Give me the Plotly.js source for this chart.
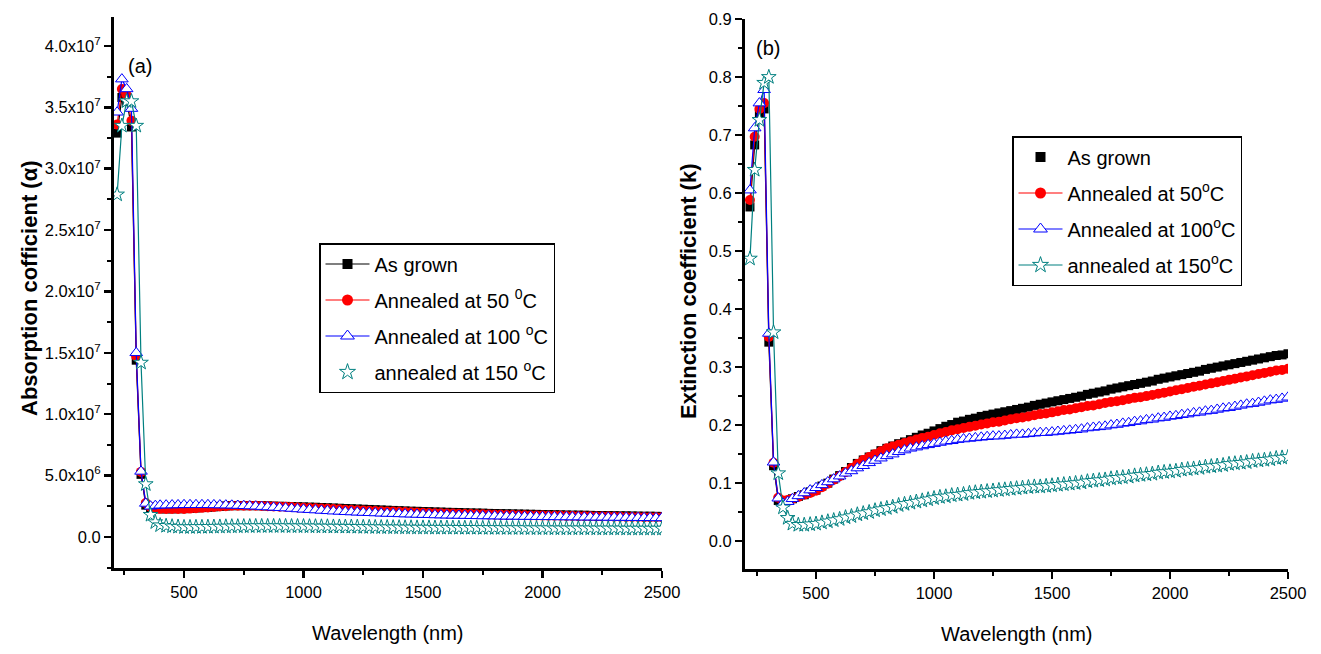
<!DOCTYPE html>
<html>
<head>
<meta charset="utf-8">
<script src="https://cdn.plot.ly/plotly-3.0.1.min.js"></script>
<style>html,body{margin:0;padding:0;background:#fff;}#chart{width:1321px;height:654px;}</style>
</head>
<body>
<div id="chart"></div>
<script>
// Wavelength grid (nm)
const wavelength = [220,240,260,280,300,320,340,360,380,
400,425,450,475,500,525,550,575,600,625,650,675,700,725,750,775,800,825,850,875,900,925,950,975,
1000,1025,1050,1075,1100,1125,1150,1175,1200,1225,1250,1275,1300,1325,1350,1375,1400,1425,1450,1475,
1500,1525,1550,1575,1600,1625,1650,1675,1700,1725,1750,1775,1800,1825,1850,1875,1900,1925,1950,1975,
2000,2025,2050,2075,2100,2125,2150,2175,2200,2225,2250,2275,2300,2325,2350,2375,2400,2425,2450,2475,2500];

// Panel (a): absorption coefficient (alpha)
const alphaAsGrown = [32.9e6,35.8e6,35.5e6,33.4e6,14.4e6,5.1e6,2.59e6,2.37e6,2.31e6,
2.29e6,2.29e6,2.29e6,2.30e6, 2.30e6,2.33e6,2.36e6,2.39e6, 2.42e6,2.45e6,2.49e6,2.52e6, 2.55e6,2.55e6,2.55e6,2.55e6,
2.55e6,2.54e6,2.53e6,2.51e6, 2.50e6,2.49e6,2.48e6,2.46e6, 2.45e6,2.43e6,2.42e6,2.40e6, 2.38e6,2.36e6,2.34e6,2.32e6,
2.30e6,2.28e6,2.26e6,2.24e6, 2.22e6,2.20e6,2.18e6,2.16e6, 2.14e6,2.12e6,2.10e6,2.09e6, 2.07e6,2.06e6,2.04e6,2.03e6,
2.01e6,2.00e6,1.99e6,1.97e6, 1.96e6,1.95e6,1.94e6,1.92e6, 1.91e6,1.90e6,1.89e6,1.88e6, 1.87e6,1.86e6,1.85e6,1.84e6,
1.83e6,1.82e6,1.81e6,1.80e6, 1.79e6,1.78e6,1.78e6,1.77e6, 1.76e6,1.75e6,1.75e6,1.74e6, 1.73e6,1.72e6,1.72e6,1.71e6,
1.70e6,1.69e6,1.69e6,1.68e6, 1.67e6];
const alpha50 = [33.6e6,36.5e6,36.0e6,33.9e6,14.7e6,5.3e6,2.77e6,2.44e6,2.35e6,
2.29e6,2.28e6,2.28e6,2.28e6, 2.28e6,2.31e6,2.34e6,2.37e6, 2.40e6,2.44e6,2.48e6,2.51e6, 2.55e6,2.55e6,2.55e6,2.55e6,
2.55e6,2.53e6,2.51e6,2.49e6, 2.47e6,2.45e6,2.43e6,2.40e6, 2.38e6,2.36e6,2.34e6,2.31e6, 2.29e6,2.27e6,2.25e6,2.22e6,
2.20e6,2.18e6,2.16e6,2.14e6, 2.12e6,2.10e6,2.08e6,2.07e6, 2.05e6,2.03e6,2.01e6,1.99e6, 1.97e6,1.96e6,1.94e6,1.93e6,
1.91e6,1.90e6,1.89e6,1.87e6, 1.86e6,1.85e6,1.84e6,1.82e6, 1.81e6,1.80e6,1.79e6,1.78e6, 1.77e6,1.76e6,1.75e6,1.75e6,
1.74e6,1.73e6,1.72e6,1.72e6, 1.71e6,1.70e6,1.69e6,1.69e6, 1.68e6,1.67e6,1.66e6,1.66e6, 1.65e6,1.64e6,1.63e6,1.63e6,
1.62e6,1.61e6,1.61e6,1.60e6, 1.60e6];
const alpha100 = [34.6e6,37.3e6,36.5e6,34.9e6,15.0e6,5.34e6,2.73e6,2.50e6,2.55e6,
2.58e6,2.59e6,2.60e6,2.61e6, 2.62e6,2.62e6,2.62e6,2.62e6, 2.62e6,2.61e6,2.60e6,2.59e6, 2.58e6,2.56e6,2.54e6,2.52e6,
2.50e6,2.47e6,2.44e6,2.41e6, 2.38e6,2.35e6,2.32e6,2.28e6, 2.25e6,2.22e6,2.19e6,2.16e6, 2.13e6,2.10e6,2.08e6,2.05e6,
2.03e6,2.01e6,1.99e6,1.97e6, 1.95e6,1.93e6,1.91e6,1.90e6, 1.88e6,1.86e6,1.85e6,1.83e6, 1.82e6,1.81e6,1.79e6,1.78e6,
1.77e6,1.76e6,1.75e6,1.74e6, 1.73e6,1.72e6,1.71e6,1.71e6, 1.70e6,1.69e6,1.68e6,1.68e6, 1.67e6,1.66e6,1.66e6,1.65e6,
1.65e6,1.64e6,1.64e6,1.63e6, 1.63e6,1.62e6,1.62e6,1.61e6, 1.61e6,1.60e6,1.60e6,1.59e6, 1.59e6,1.58e6,1.58e6,1.57e6,
1.57e6,1.56e6,1.56e6,1.55e6, 1.55e6];
const alpha150 = [27.9e6,33.5e6,35.5e6,35.5e6,33.5e6,14.2e6,4.3e6,1.8e6,1.2e6,
0.95e6,0.90e6,0.86e6,0.83e6, 0.80e6,0.80e6,0.81e6,0.81e6, 0.82e6,0.83e6,0.84e6,0.85e6, 0.86e6,0.86e6,0.87e6,0.87e6,
0.88e6,0.88e6,0.88e6,0.88e6, 0.88e6,0.88e6,0.87e6,0.87e6, 0.87e6,0.86e6,0.86e6,0.85e6, 0.85e6,0.84e6,0.84e6,0.83e6,
0.83e6,0.82e6,0.81e6,0.81e6, 0.80e6,0.79e6,0.79e6,0.78e6, 0.78e6,0.77e6,0.77e6,0.76e6, 0.76e6,0.76e6,0.75e6,0.75e6,
0.75e6,0.75e6,0.74e6,0.74e6, 0.74e6,0.74e6,0.73e6,0.73e6, 0.73e6,0.73e6,0.72e6,0.72e6, 0.72e6,0.72e6,0.71e6,0.71e6,
0.71e6,0.71e6,0.70e6,0.70e6, 0.70e6,0.70e6,0.70e6,0.70e6, 0.70e6,0.69e6,0.69e6,0.69e6, 0.69e6,0.69e6,0.68e6,0.68e6,
0.68e6,0.68e6,0.68e6,0.68e6, 0.68e6];

// Panel (b): extinction coefficient (k)
const kAsGrown = [0.576,0.683,0.735,0.745,0.343,0.130,0.070,0.068,0.070,
0.073,0.077,0.080,0.085, 0.088,0.095,0.100,0.107, 0.113,0.120,0.127,0.134, 0.140,0.145,0.150,0.156,
0.160,0.164,0.168,0.171, 0.175,0.179,0.183,0.186, 0.190,0.194,0.198,0.201, 0.205,0.207,0.210,0.212,
0.215,0.217,0.219,0.221, 0.223,0.225,0.227,0.229, 0.231,0.234,0.236,0.238, 0.240,0.242,0.244,0.246,
0.248,0.250,0.253,0.255, 0.257,0.259,0.262,0.264, 0.266,0.268,0.270,0.272, 0.274,0.276,0.279,0.281,
0.283,0.285,0.287,0.289, 0.291,0.293,0.296,0.298, 0.300,0.302,0.304,0.306, 0.308,0.310,0.312,0.314,
0.316,0.318,0.320,0.321, 0.323];
const k50 = [0.588,0.697,0.745,0.755,0.352,0.135,0.075,0.070,0.071,
0.073,0.076,0.080,0.083, 0.087,0.093,0.099,0.106, 0.112,0.119,0.126,0.133, 0.140,0.145,0.150,0.155,
0.160,0.163,0.166,0.169, 0.172,0.175,0.178,0.180, 0.183,0.186,0.188,0.191, 0.193,0.195,0.197,0.199,
0.201,0.203,0.205,0.206, 0.208,0.210,0.212,0.213, 0.215,0.217,0.219,0.220, 0.222,0.224,0.226,0.227,
0.229,0.231,0.233,0.234, 0.236,0.238,0.240,0.241, 0.243,0.245,0.247,0.248, 0.250,0.252,0.254,0.256,
0.258,0.260,0.262,0.264, 0.266,0.268,0.270,0.272, 0.274,0.276,0.278,0.280, 0.282,0.284,0.286,0.288,
0.290,0.292,0.294,0.295, 0.297];
const k100 = [0.605,0.712,0.755,0.778,0.358,0.136,0.074,0.065,0.068,
0.073,0.078,0.083,0.088, 0.092,0.097,0.102,0.107, 0.112,0.117,0.121,0.126, 0.130,0.135,0.139,0.143,
0.147,0.150,0.154,0.157, 0.160,0.162,0.164,0.166, 0.168,0.170,0.172,0.173, 0.175,0.176,0.177,0.178,
0.179,0.180,0.181,0.181, 0.182,0.183,0.184,0.184, 0.185,0.186,0.187,0.187, 0.188,0.189,0.190,0.191,
0.192,0.193,0.195,0.196, 0.197,0.198,0.200,0.201, 0.203,0.204,0.206,0.207, 0.209,0.210,0.212,0.213,
0.215,0.216,0.218,0.219, 0.221,0.222,0.224,0.225, 0.227,0.229,0.230,0.232, 0.234,0.236,0.237,0.239,
0.241,0.243,0.244,0.246, 0.248];
const k150 = [0.487,0.640,0.726,0.790,0.800,0.360,0.117,0.058,0.040,
0.030,0.028,0.028,0.029, 0.030,0.032,0.034,0.036, 0.038,0.041,0.043,0.046, 0.048,0.050,0.053,0.055,
0.057,0.059,0.062,0.064, 0.066,0.068,0.070,0.072, 0.074,0.076,0.077,0.079, 0.080,0.081,0.083,0.084,
0.085,0.086,0.087,0.088, 0.089,0.090,0.091,0.092, 0.093,0.094,0.094,0.095, 0.096,0.097,0.098,0.099,
0.100,0.101,0.103,0.104, 0.105,0.106,0.108,0.109, 0.110,0.111,0.113,0.114, 0.115,0.116,0.118,0.119,
0.120,0.121,0.123,0.124, 0.125,0.126,0.128,0.129, 0.130,0.131,0.133,0.134, 0.135,0.136,0.138,0.139,
0.140,0.141,0.143,0.144, 0.145];

// Labels
const seriesNamesA = ['As grown', 'Annealed at 50 <sup>0</sup>C', 'Annealed at 100 <sup>o</sup>C', 'annealed at 150 <sup>o</sup>C'];
const seriesNamesB = ['As grown', 'Annealed at 50<sup>o</sup>C', 'Annealed at 100<sup>o</sup>C', 'annealed at 150<sup>o</sup>C'];
const alphaTickVals = [0, 5e6, 1e7, 1.5e7, 2e7, 2.5e7, 3e7, 3.5e7, 4e7];
const alphaTickText = ['0.0', '5.0x10<sup>6</sup>', '1.0x10<sup>7</sup>', '1.5x10<sup>7</sup>', '2.0x10<sup>7</sup>',
  '2.5x10<sup>7</sup>', '3.0x10<sup>7</sup>', '3.5x10<sup>7</sup>', '4.0x10<sup>7</sup>'];

const FONT = 'Liberation Sans, Arial, sans-serif';
const colors = ['#000000', '#ff0000', '#0000ff', '#008080'];
const markers = [
  {symbol: 'square', size: 9, color: '#000000', line: {width: 0}},
  {symbol: 'circle', size: 10, color: '#ff0000', line: {width: 0}},
  {symbol: 'triangle-up', size: 11, color: '#ffffff', line: {color: '#0000ff', width: 1}},
  {symbol: 'star', size: 11, color: '#ffffff', line: {color: '#008080', width: 1}}
];

const alphaSeries = [alphaAsGrown, alpha50, alpha100, alpha150];
const kSeries = [kAsGrown, k50, k100, k150];
const traces = [];
for (let i = 0; i < 4; i++) {
  traces.push({x: wavelength, y: alphaSeries[i], xaxis: 'x', yaxis: 'y', type: 'scatter', mode: 'lines+markers',
    line: {color: colors[i], width: 1.2}, marker: markers[i], showlegend: false, hoverinfo: 'skip'});
}
for (let i = 0; i < 4; i++) {
  traces.push({x: wavelength, y: kSeries[i], xaxis: 'x2', yaxis: 'y2', type: 'scatter', mode: 'lines+markers',
    line: {color: colors[i], width: 1.2}, marker: markers[i], showlegend: false, hoverinfo: 'skip'});
}
// legend entries
const legModesA = ['lines+markers', 'lines+markers', 'lines+markers', 'markers'];
const legModesB = ['markers', 'lines+markers', 'lines+markers', 'lines+markers'];
for (let i = 0; i < 4; i++) {
  traces.push({x: [null], y: [null], xaxis: 'x', yaxis: 'y', type: 'scatter', mode: legModesA[i], name: seriesNamesA[i],
    line: {color: colors[i], width: 1.2}, marker: Object.assign({}, markers[i], {size: markers[i].size + 1}),
    legend: 'legend', legendgroup: 'a' + i, showlegend: true});
}
for (let i = 0; i < 4; i++) {
  traces.push({x: [null], y: [null], xaxis: 'x2', yaxis: 'y2', type: 'scatter', mode: legModesB[i], name: seriesNamesB[i],
    line: {color: colors[i], width: 1.2}, marker: Object.assign({}, markers[i], {size: markers[i].size + 1}),
    legend: 'legend2', legendgroup: 'b' + i, showlegend: true});
}

const W = 1321, H = 654;
const dA = {x: [114 / W, 662 / W], y: [1 - 568 / H, 1 - 17 / H]};
const dB = {x: [745 / W, 1288 / W], y: [1 - 569 / H, 1 - 19 / H]};
const rangeAx = [207, 2500], rangeAy = [-2.53e6, 4.236e7];
const rangeBx = [199, 2500], rangeBy = [-0.048, 0.9];
const tickFont = {family: FONT, size: 16.5, color: '#000'};

function baseAxis(extra) {
  return Object.assign({
    showgrid: false, zeroline: false, showline: true, linecolor: '#000', linewidth: 3,
    ticks: 'outside', ticklen: 7, tickwidth: 2.5, tickcolor: '#000', tickfont: tickFont,
    fixedrange: true
  }, extra);
}
function mirrorAxis(extra) {
  return Object.assign({
    showgrid: false, zeroline: false, showline: true, linecolor: '#000', linewidth: 3,
    ticks: 'inside', ticklen: 7, tickwidth: 2.5, tickcolor: '#000', showticklabels: false, fixedrange: true
  }, extra);
}
const legendFont = {family: FONT, size: 20, color: '#000'};
const annFont = (s) => ({family: FONT, size: s, color: '#000'});

const layout = {
  width: W, height: H,
  margin: {l: 0, r: 0, t: 0, b: 0},
  paper_bgcolor: '#fff', plot_bgcolor: '#fff',
  font: {family: FONT, color: '#000'},
  showlegend: true,
  xaxis: baseAxis({domain: dA.x, anchor: 'y', range: rangeAx, tickvals: [500, 1000, 1500, 2000, 2500],
    minor: {tickvals: [250, 750, 1250, 1750, 2250], ticks: 'outside', ticklen: 4, tickwidth: 2, tickcolor: '#000'}}),
  yaxis: baseAxis({domain: dA.y, anchor: 'x', range: rangeAy, tickvals: alphaTickVals, ticktext: alphaTickText,
    minor: {dtick: 5e6, tick0: 2.5e6, ticks: 'outside', ticklen: 4, tickwidth: 2, tickcolor: '#000'}}),
  xaxis3: mirrorAxis({overlaying: 'x', side: 'top', anchor: 'y', range: rangeAx, tickvals: [500, 1000, 1500, 2000, 2500]}),
  yaxis3: mirrorAxis({overlaying: 'y', side: 'right', anchor: 'x', range: rangeAy, tickvals: alphaTickVals}),
  xaxis2: baseAxis({domain: dB.x, anchor: 'y2', range: rangeBx, tickvals: [500, 1000, 1500, 2000, 2500],
    minor: {tickvals: [250, 750, 1250, 1750, 2250], ticks: 'outside', ticklen: 4, tickwidth: 2, tickcolor: '#000'}}),
  yaxis2: baseAxis({domain: dB.y, anchor: 'x2', range: rangeBy, dtick: 0.1, tick0: 0, tickformat: '.1f',
    minor: {dtick: 0.1, tick0: 0.05, ticks: 'outside', ticklen: 4, tickwidth: 2, tickcolor: '#000'}}),
  xaxis4: mirrorAxis({overlaying: 'x2', side: 'top', anchor: 'y2', range: rangeBx, tickvals: [500, 1000, 1500, 2000, 2500]}),
  yaxis4: mirrorAxis({overlaying: 'y2', side: 'right', anchor: 'x2', range: rangeBy, dtick: 0.1, tick0: 0}),
  legend: {x: 319 / W, y: 1 - 243 / H, xanchor: 'left', yanchor: 'top', bgcolor: '#fff',
    bordercolor: '#000', borderwidth: 1.5, font: legendFont,
    traceorder: 'grouped', tracegroupgap: 7, itemwidth: 44},
  legend2: {x: 1012 / W, y: 1 - 136 / H, xanchor: 'left', yanchor: 'top', bgcolor: '#fff',
    bordercolor: '#000', borderwidth: 1.5, font: legendFont,
    traceorder: 'grouped', tracegroupgap: 7, itemwidth: 44},
  annotations: [
    {text: '(a)', xref: 'paper', yref: 'paper', x: 140 / W, y: 1 - 66 / H, xanchor: 'center', yanchor: 'middle',
      showarrow: false, font: annFont(20)},
    {text: '(b)', xref: 'paper', yref: 'paper', x: 768 / W, y: 1 - 48 / H, xanchor: 'center', yanchor: 'middle',
      showarrow: false, font: annFont(20)},
    {text: '<b>Absorption cofficient (α)</b>', xref: 'paper', yref: 'paper', x: 29 / W, y: 1 - 288 / H,
      xanchor: 'center', yanchor: 'middle', textangle: -90, showarrow: false, font: annFont(22)},
    {text: '<b>Extinction coefficient (k)</b>', xref: 'paper', yref: 'paper', x: 688 / W, y: 1 - 292 / H,
      xanchor: 'center', yanchor: 'middle', textangle: -90, showarrow: false, font: annFont(22)},
    {text: 'Wavelength (nm)', xref: 'paper', yref: 'paper', x: 388 / W, y: 1 - 633 / H,
      xanchor: 'center', yanchor: 'middle', showarrow: false, font: annFont(20)},
    {text: 'Wavelength (nm)', xref: 'paper', yref: 'paper', x: 1017 / W, y: 1 - 634 / H,
      xanchor: 'center', yanchor: 'middle', showarrow: false, font: annFont(20)}
  ]
};

Plotly.newPlot('chart', traces, layout, {displayModeBar: false, staticPlot: true});
</script>
</body>
</html>
